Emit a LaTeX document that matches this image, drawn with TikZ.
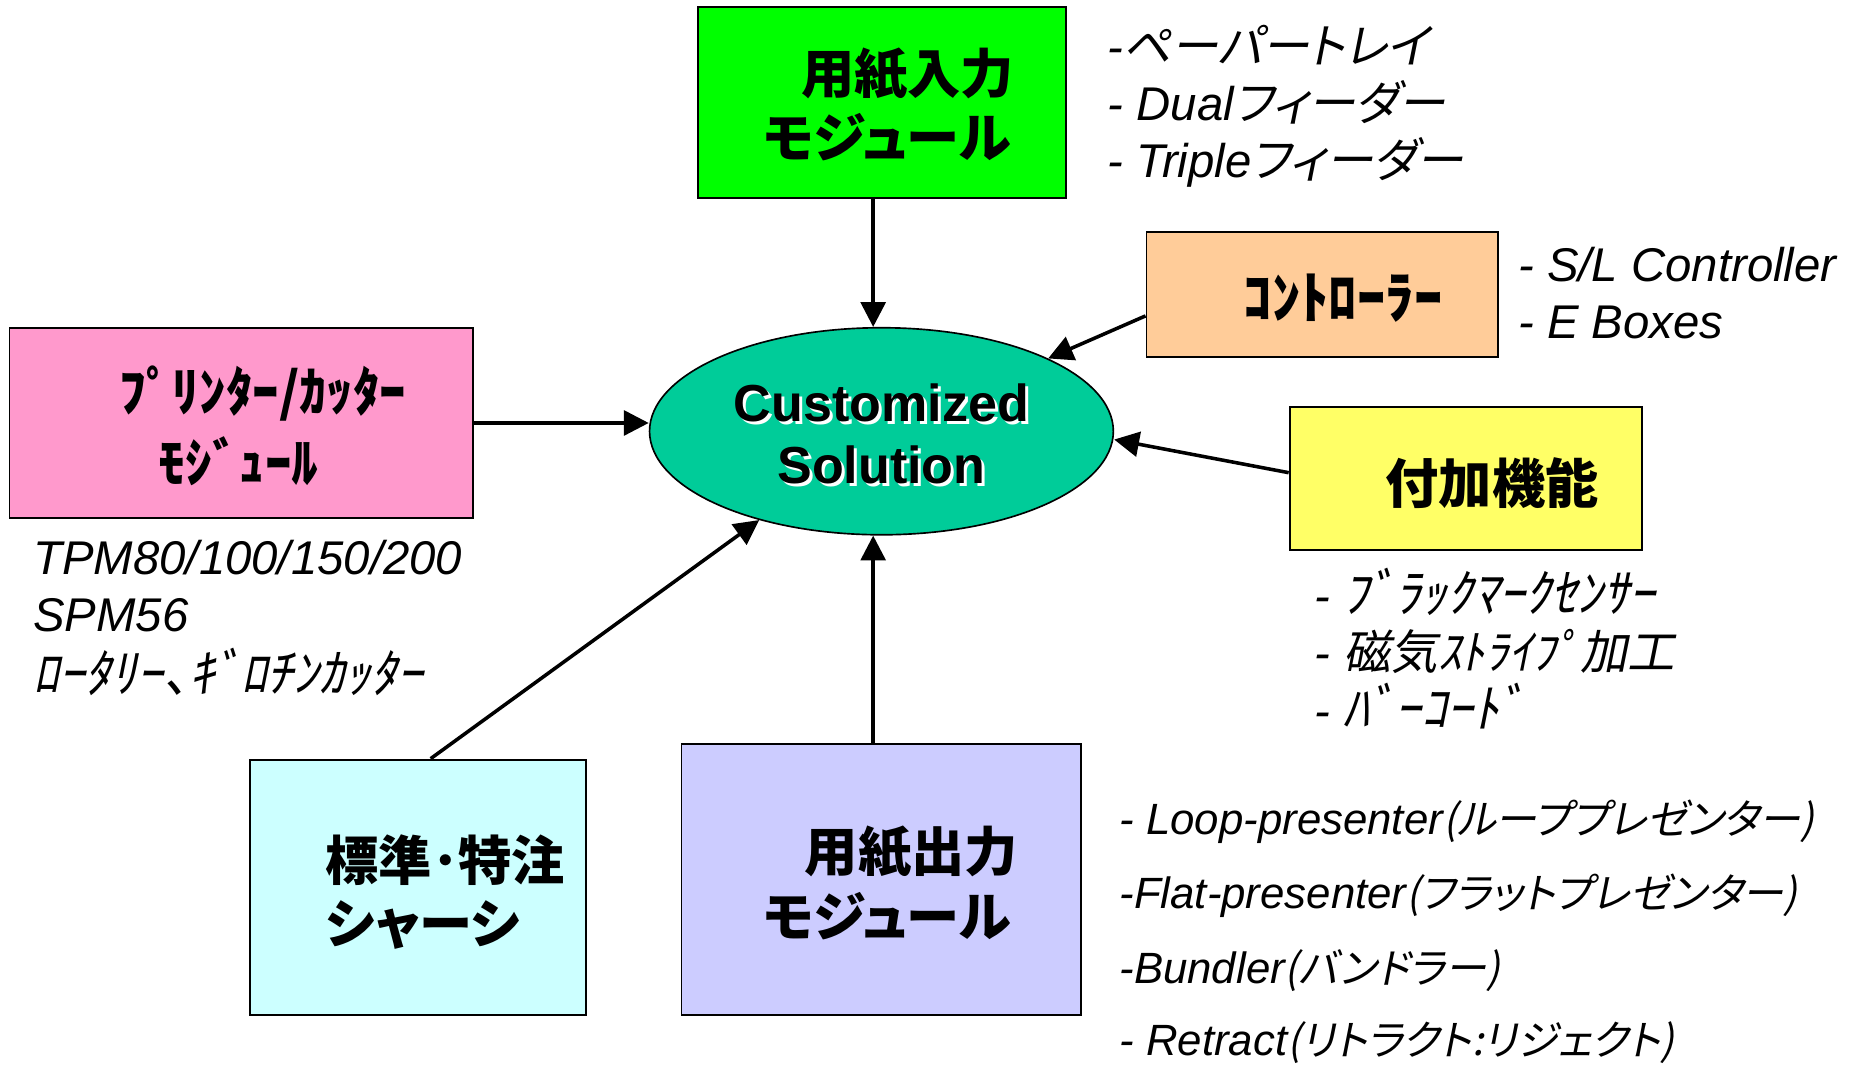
\documentclass[tikz,border=0pt]{standalone}
\usepackage{fontspec}
\setmainfont{Liberation Sans}
\newfontfamily\jpbf[RawFeature={+palt}]{Noto Sans CJK JP}
\newfontfamily\jpit[FakeSlant=0.2,RawFeature={+palt}]{Noto Sans CJK JP}
\newcommand\jtxt[1]{{\jpit\upshape #1}}
\newcommand\jbig[1]{{\fontsize{44}{48}\selectfont\jpit\upshape #1}}
\newcommand\jsml[1]{{\fontsize{35}{40}\selectfont\jpit\upshape #1}}
\usetikzlibrary{shapes.geometric,arrows.meta}
\definecolor{cgreen}{HTML}{00FF00}
\definecolor{cpeach}{HTML}{FFCC99}
\definecolor{cpink}{HTML}{FF99CC}
\definecolor{cyellow}{HTML}{FFFF66}
\definecolor{ccyan}{HTML}{CCFFFF}
\definecolor{clav}{HTML}{CCCCFF}
\definecolor{cteal}{HTML}{00CC99}
\tikzset{
  box/.style={draw=black, line width=1.6pt, inner sep=0pt},
  arr/.style={line width=3pt, -{Triangle[length=21pt,width=21pt]}},
  boxtxt/.style={font=\fontsize{45}{50}\selectfont\jpbf\bfseries, anchor=west, inner sep=0pt},
  itl/.style={font=\fontsize{40}{44}\selectfont\itshape, anchor=base west, inner sep=0pt},
  itlb/.style={font=\fontsize{37}{40}\selectfont\itshape, anchor=base west, inner sep=0pt},
  title/.style={font=\fontsize{44}{48}\selectfont\bfseries, anchor=base, inner sep=0pt},
}
\begin{document}
\begin{tikzpicture}[x=1pt,y=-1pt]
\fill[white] (0,0) rectangle (1567,900);
\useasboundingbox (0,0) rectangle (1567,900);
% boxes
\node[box, fill=cgreen, minimum width=311pt, minimum height=161pt] (green) at (745.5,86.5) {};
\node[box, fill=cpeach, minimum width=297pt, minimum height=106pt] (ctrl) at (1117.5,249) {};
\node[box, fill=cpink, minimum width=392pt, minimum height=161pt] (pink) at (204,357.5) {};
\node[box, fill=cyellow, minimum width=298pt, minimum height=121pt] (yel) at (1239,404.5) {};
\node[box, fill=ccyan, minimum width=284pt, minimum height=216pt] (cyan) at (353,750) {};
\node[box, fill=clav, minimum width=338pt, minimum height=229pt] (lav) at (745,743.5) {};
\node[draw=black, ellipse, fill=cteal, line width=1.4pt, minimum width=392pt, minimum height=175pt, inner sep=0pt] (ell) at (745,364.5) {};
% title
\node[title, text=white] (cs1s) at (747.5,358.5) {Customized};
\node[title, text=white] (cs2s) at (747.5,411.5) {Solution};
\node[title] (cs1) at (745,356) {Customized};
\node[title] (cs2) at (745,409) {Solution};
% box texts
\node[boxtxt] (g1) at (677,63) {用紙入力};
\node[boxtxt] (g2) at (645,116) {モジュール};
\node[boxtxt, font=\fontsize{48}{52}\selectfont\jpbf\bfseries] (c1) at (1051,252) {ｺﾝﾄﾛｰﾗｰ};
\node[boxtxt] (p1) at (101,333) {ﾌﾟﾘﾝﾀｰ/ｶｯﾀｰ};
\node[boxtxt] (p2) at (134,390) {ﾓｼﾞｭｰﾙ};
\node[boxtxt] (y1) at (1171,408) {付加機能};
\node[boxtxt] (s1) at (275,727) {標準･特注};
\node[boxtxt] (s2) at (275,782) {シャーシ};
\node[boxtxt] (l1) at (680,720) {用紙出力};
\node[boxtxt] (l2) at (645,774) {モジュール};
% lists
\node[itl] (gl1) at (936,54) {-\jtxt{ペーパートレイ}};
\node[itl] (gl2) at (936,102) {- Dual\jtxt{フィーダー}};
\node[itl] (gl3) at (936,150) {- Triple\jtxt{フィーダー}};
\node[itl] (cl1) at (1283,237.5) {- S/L Controller};
\node[itl] (cl2) at (1283,286) {- E Boxes};
\node[itl] (pl1) at (28,485.6) {TPM80/100/150/200};
\node[itl] (pl2) at (28,534) {SPM56};
\node[itl] (pl3) at (28,585) {\jbig{ﾛｰﾀﾘｰ、ｷﾞﾛﾁﾝｶｯﾀｰ}};
\node[itl] (yl1) at (1111,518) {- \jbig{ﾌﾞﾗｯｸﾏｰｸｾﾝｻｰ}};
\node[itl] (yl2) at (1111,566) {- \jtxt{磁気ｽﾄﾗｲﾌﾟ加工}};
\node[itl] (yl3) at (1111,615) {- \jbig{ﾊﾞｰｺｰﾄﾞ}};
\node[itlb] (ll1) at (946,705) {- Loop-presenter\jsml{(ループプレゼンター)}};
\node[itlb] (ll2) at (946,768) {-Flat-presenter\jsml{(フラットプレゼンター)}};
\node[itlb] (ll3) at (946,831) {-Bundler\jsml{(バンドラー)}};
\node[itlb] (ll4) at (946,892) {- Retract\jsml{(リトラクト:リジェクト)}};
% arrows
\draw[arr] ([xshift=-7.5pt]green.south) -- ([xshift=-7pt]ell.north);
\draw[arr] ([yshift=-18pt]ctrl.west) -- (ell);
\draw[arr] (pink.east) -- (pink.east -| ell.west);
\draw[arr] ([yshift=5pt]yel.west) -- ([yshift=-7pt]ell.east);
\draw[arr] ([xshift=11pt]cyan.north) -- (ell);
\draw[arr] ([xshift=-7pt]lav.north) -- ([xshift=-7pt]ell.south);
\end{tikzpicture}
\end{document}
